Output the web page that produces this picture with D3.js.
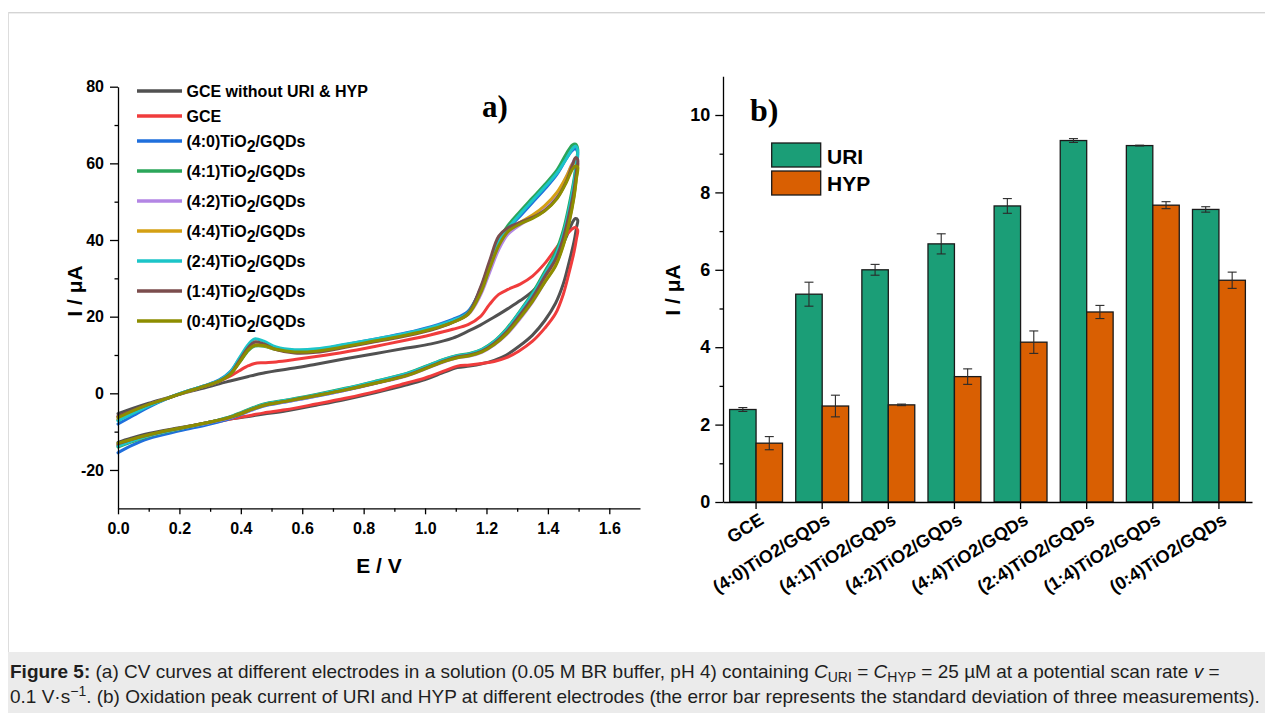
<!DOCTYPE html>
<html>
<head>
<meta charset="utf-8">
<script src="https://cdn.jsdelivr.net/npm/d3@7"></script>
<style>
  html, body { margin: 0; padding: 0; background: #fff; }
  svg { display: block; }
</style>
</head>
<body>
<svg id="fig" width="1265" height="713"></svg>
<script>
// ---------- Panel (a): cyclic voltammograms ----------
// Potential grid of the anodic (forward) and cathodic (return) sweeps, V
const forwardE = [0, 0.05, 0.10, 0.16, 0.22, 0.28, 0.33, 0.365, 0.395, 0.425, 0.445, 0.475, 0.515, 0.575, 0.645, 0.74, 0.84, 0.94, 1.02, 1.09, 1.14, 1.18, 1.21, 1.24, 1.27, 1.31, 1.35, 1.39, 1.43, 1.46, 1.48, 1.49];
const reverseE = [1.497, 1.493, 1.485, 1.47, 1.45, 1.425, 1.39, 1.35, 1.305, 1.265, 1.225, 1.185, 1.145, 1.105, 1.065, 1.0, 0.94, 0.84, 0.74, 0.645, 0.545, 0.475, 0.435, 0.375, 0.30, 0.20, 0.10, 0.04, 0];

// Currents, µA
const blankFwd = [-5.3, -3.9, -2.6, -1.2, 0.2, 1.4, 2.5, 3.2, 3.8, 4.4, 4.8, 5.3, 5.9, 6.6, 7.6, 9.0, 10.4, 11.8, 12.9, 14.4, 16.2, 17.8, 19.2, 20.6, 22.1, 24.2, 26.6, 30.2, 35.5, 40.8, 44.6, 45.6];
const blankRev = [45.2, 43.2, 39.5, 34.5, 28.5, 23.5, 19.0, 15.2, 12.2, 10.0, 8.6, 7.7, 7.1, 6.7, 5.6, 3.6, 2.2, 0.2, -1.6, -3.1, -4.6, -5.4, -5.9, -6.6, -7.6, -9.0, -10.5, -11.8, -12.8];
const gceFwd = [-6.0, -4.5, -3.0, -1.3, 0.3, 1.8, 3.2, 4.5, 5.9, 7.2, 7.8, 8.0, 8.2, 8.8, 9.6, 10.8, 12.3, 13.9, 15.3, 16.7, 17.9, 20.0, 23.2, 25.8, 27.1, 28.5, 30.6, 33.9, 38.2, 41.3, 42.9, 43.3];
const gceRev = [42.6, 40.3, 36.8, 31.8, 25.8, 20.8, 17.0, 13.6, 11.0, 9.3, 8.3, 7.8, 7.4, 7.1, 5.9, 4.0, 2.7, 0.5, -1.3, -2.8, -4.3, -5.1, -5.7, -6.6, -7.8, -9.4, -11.0, -12.3, -13.6];
const tg40Fwd = [-8.0, -5.8, -3.6, -1.4, 0.4, 1.9, 3.5, 5.6, 9.0, 12.2, 13.0, 12.7, 11.6, 11.0, 11.3, 12.7, 14.2, 15.8, 17.4, 19.3, 21.4, 27.0, 33.0, 39.0, 42.8, 46.3, 49.8, 53.3, 57.2, 61.2, 63.4, 63.8];
const tg40Rev = [62.8, 59.2, 54.3, 48.0, 41.2, 35.8, 31.0, 25.6, 20.6, 16.4, 13.3, 11.2, 10.1, 9.6, 8.6, 6.6, 4.8, 2.7, 0.8, -0.8, -2.3, -3.3, -4.4, -6.3, -8.0, -9.8, -11.8, -13.8, -15.5];
const tg41Fwd = [-7.0, -5.0, -3.2, -1.3, 0.4, 1.9, 3.3, 5.0, 8.0, 11.2, 12.3, 12.3, 11.4, 10.9, 11.1, 12.4, 13.9, 15.4, 17.0, 18.9, 21.0, 27.2, 33.8, 40.0, 43.8, 47.5, 51.0, 54.5, 58.3, 62.5, 64.8, 65.0];
const tg41Rev = [63.8, 60.5, 55.8, 49.5, 42.5, 36.8, 31.8, 26.2, 21.0, 16.8, 13.6, 11.5, 10.4, 9.9, 9.0, 7.0, 5.2, 3.2, 1.3, -0.3, -1.8, -2.8, -3.9, -5.8, -7.5, -9.3, -11.2, -12.8, -14.0];
const tg42Fwd = [-6.5, -4.7, -3.0, -1.3, 0.3, 1.8, 3.2, 5.0, 8.4, 11.8, 12.8, 12.6, 11.6, 10.9, 11.0, 12.3, 13.8, 15.3, 16.8, 18.6, 20.5, 25.5, 31.5, 37.5, 41.5, 44.0, 46.0, 48.5, 52.0, 56.5, 60.0, 61.2];
const tg42Rev = [60.5, 57.0, 51.8, 45.5, 39.0, 33.5, 29.0, 23.8, 19.0, 15.3, 12.6, 10.7, 9.7, 9.3, 8.3, 6.3, 4.5, 2.6, 0.8, -0.7, -2.2, -3.2, -4.3, -6.1, -7.6, -9.2, -11.0, -12.5, -13.6];
const tg44Fwd = [-6.8, -4.9, -3.1, -1.3, 0.3, 1.8, 3.2, 5.0, 8.3, 11.6, 12.6, 12.4, 11.4, 10.8, 11.0, 12.3, 13.8, 15.3, 16.9, 18.7, 20.7, 26.5, 33.0, 39.0, 42.5, 44.6, 46.5, 49.0, 52.5, 56.5, 59.8, 60.5];
const tg44Rev = [60.0, 56.5, 51.5, 45.2, 38.8, 33.5, 29.2, 24.2, 19.4, 15.6, 12.8, 10.9, 9.9, 9.4, 8.5, 6.5, 4.7, 2.7, 0.9, -0.6, -2.1, -3.1, -4.2, -6.0, -7.5, -9.2, -11.0, -12.5, -13.5];
const tg24Fwd = [-7.2, -5.2, -3.3, -1.3, 0.4, 1.9, 3.4, 5.5, 9.2, 12.8, 14.2, 13.6, 12.1, 11.4, 11.6, 12.8, 14.2, 15.7, 17.2, 19.0, 21.0, 27.0, 33.5, 39.5, 43.0, 46.8, 50.3, 53.8, 57.5, 61.2, 63.8, 64.5];
const tg24Rev = [63.5, 60.0, 55.0, 48.5, 41.5, 36.0, 31.2, 25.8, 20.8, 16.6, 13.5, 11.4, 10.3, 9.8, 8.9, 6.9, 5.1, 3.1, 1.2, -0.4, -1.9, -2.9, -4.0, -5.9, -7.5, -9.2, -11.0, -12.6, -13.8];
const tg14Fwd = [-6.0, -4.4, -2.9, -1.3, 0.3, 1.8, 3.2, 5.0, 8.5, 12.0, 13.4, 12.9, 11.4, 10.5, 10.7, 12.0, 13.5, 15.0, 16.5, 18.5, 20.8, 27.5, 34.5, 41.0, 43.2, 44.6, 45.9, 47.7, 51.0, 55.3, 59.6, 61.5];
const tg14Rev = [61.0, 58.0, 53.0, 47.0, 40.5, 35.0, 30.5, 25.0, 20.0, 16.0, 13.0, 11.0, 10.0, 9.5, 8.5, 6.5, 4.7, 2.7, 0.9, -0.6, -2.1, -3.1, -4.2, -6.0, -7.5, -9.1, -10.8, -12.1, -13.2];
const tg04Fwd = [-6.3, -4.5, -2.9, -1.3, 0.3, 1.8, 3.2, 4.9, 8.0, 11.4, 12.5, 12.5, 11.5, 10.8, 11.0, 12.2, 13.7, 15.2, 16.7, 18.5, 20.6, 26.0, 32.5, 38.5, 42.2, 44.2, 45.6, 47.6, 50.8, 55.0, 58.5, 59.3];
const tg04Rev = [59.0, 56.0, 51.0, 44.8, 38.5, 33.2, 29.0, 24.0, 19.3, 15.5, 12.7, 10.8, 9.8, 9.3, 8.4, 6.4, 4.6, 2.7, 0.9, -0.6, -2.1, -3.1, -4.2, -6.0, -7.5, -9.1, -10.8, -12.1, -13.0];

const cvNames = ["GCE without URI & HYP", "GCE", "(4:0)TiO2/GQDs", "(4:1)TiO2/GQDs", "(4:2)TiO2/GQDs",
                 "(4:4)TiO2/GQDs", "(2:4)TiO2/GQDs", "(1:4)TiO2/GQDs", "(0:4)TiO2/GQDs"];
const cvForward = [blankFwd, gceFwd, tg40Fwd, tg41Fwd, tg42Fwd, tg44Fwd, tg24Fwd, tg14Fwd, tg04Fwd];
const cvReverse = [blankRev, gceRev, tg40Rev, tg41Rev, tg42Rev, tg44Rev, tg24Rev, tg14Rev, tg04Rev];
const cvColors = ["#515151", "#f03c3c", "#1f6fdc", "#2ba65a", "#b386e4", "#d4a014", "#1cc5c8", "#7b4d4d", "#8d8d00"];

const cvXTicks = [0, 0.2, 0.4, 0.6, 0.8, 1.0, 1.2, 1.4, 1.6];
const cvXMinor = [0.1, 0.3, 0.5, 0.7, 0.9, 1.1, 1.3, 1.5];
const cvYTicks = [-20, 0, 20, 40, 60, 80];
const cvYMinor = [-10, 10, 30, 50, 70];

// ---------- Panel (b): oxidation peak currents ----------
const barCategories = ["GCE", "(4:0)TiO2/GQDs", "(4:1)TiO2/GQDs", "(4:2)TiO2/GQDs",
                       "(4:4)TiO2/GQDs", "(2:4)TiO2/GQDs", "(1:4)TiO2/GQDs", "(0:4)TiO2/GQDs"];
const uriPeak = [2.39, 5.37, 6.00, 6.67, 7.65, 9.34, 9.21, 7.56];
const uriSD   = [0.05, 0.31, 0.14, 0.26, 0.19, 0.05, 0.01, 0.07];
const hypPeak = [1.52, 2.48, 2.51, 3.24, 4.13, 4.91, 7.67, 5.73];
const hypSD   = [0.17, 0.28, 0.02, 0.20, 0.29, 0.17, 0.09, 0.21];
const barSeries = ["URI", "HYP"];
const barColors = ["#1b9e77", "#d95f02"];
const barYTicks = [0, 2, 4, 6, 8, 10];
const barYMinor = [1, 3, 5, 7, 9];

// ---------- drawing ----------
const SANS = "'Liberation Sans', Arial, Helvetica, sans-serif";
const SERIF = "'Liberation Serif', 'Times New Roman', serif";
const svg = d3.select("#fig");

// page frame and caption band
svg.append("rect").attr("x", 8).attr("y", 652).attr("width", 1257).attr("height", 61).attr("fill", "#ebebeb");
svg.append("line").attr("x1", 8).attr("x2", 1265).attr("y1", 12.5).attr("y2", 12.5).attr("stroke", "#d4d4d4");
svg.append("line").attr("x1", 8).attr("x2", 1265).attr("y1", 13.5).attr("y2", 13.5).attr("stroke", "#eeeeee");
svg.append("line").attr("x1", 8.5).attr("x2", 8.5).attr("y1", 12).attr("y2", 652).attr("stroke", "#dddddd");

function styleAxis(g, size) {
  g.attr("font-family", SANS).attr("font-size", size).attr("font-weight", "bold");
  g.selectAll("path, line").attr("stroke", "#000").attr("stroke-width", 1.3);
  g.selectAll("text").attr("fill", "#000");
}

// --- panel (a)
const xA = d3.scaleLinear().domain([0, 1.7]).range([118, 640]);
const yA = d3.scaleLinear().domain([-30, 80]).range([508.3, 86.7]);
const gA = svg.append("g");

const lineA = d3.line()
  .x(d => xA(d[0]))
  .y(d => yA(d[1]))
  .curve(d3.curveCatmullRom.alpha(0.5));

cvNames.forEach((name, i) => {
  const pts = forwardE.map((e, k) => [e, cvForward[i][k]])
    .concat(reverseE.map((e, k) => [e, cvReverse[i][k]]));
  gA.append("path")
    .attr("d", lineA(pts))
    .attr("fill", "none")
    .attr("stroke", cvColors[i])
    .attr("stroke-width", 3)
    .attr("stroke-linejoin", "round")
    .attr("stroke-linecap", "round");
});

const axAx = gA.append("g").attr("transform", `translate(0,${yA(-30)})`)
  .call(d3.axisBottom(xA).tickValues(cvXTicks).tickSize(6).tickSizeOuter(0).tickPadding(8).tickFormat(d3.format(".1f")));
styleAxis(axAx, 16);
const axAxMinor = gA.append("g").attr("transform", `translate(0,${yA(-30)})`)
  .call(d3.axisBottom(xA).tickValues(cvXMinor).tickSize(3.5).tickFormat(""));
axAxMinor.select(".domain").remove();
styleAxis(axAxMinor, 16);

const axAy = gA.append("g").attr("transform", `translate(${xA(0)},0)`)
  .call(d3.axisLeft(yA).tickValues(cvYTicks).tickSize(8).tickSizeOuter(0).tickPadding(6).tickFormat(d => String(d)));
styleAxis(axAy, 16);
const axAyMinor = gA.append("g").attr("transform", `translate(${xA(0)},0)`)
  .call(d3.axisLeft(yA).tickValues(cvYMinor).tickSize(3.5).tickFormat(""));
axAyMinor.select(".domain").remove();
styleAxis(axAyMinor, 16);

gA.append("text").attr("x", (xA.range()[0] + xA.range()[1]) / 2).attr("y", 573)
  .attr("text-anchor", "middle").attr("font-family", SANS).attr("font-weight", "bold").attr("font-size", 21)
  .text("E / V");
gA.append("text").attr("transform", "translate(82,291) rotate(-90)")
  .attr("text-anchor", "middle").attr("font-family", SANS).attr("font-weight", "bold").attr("font-size", 21)
  .text("I / \u03bcA");
gA.append("text").attr("x", 482).attr("y", 116.5)
  .attr("font-family", SERIF).attr("font-weight", "bold").attr("font-size", 31).text("a)");

// legend of panel (a)
const legA = gA.append("g");
cvNames.forEach((name, i) => {
  const cy = i < 3 ? 91 + 25 * i : 141 + 30 * (i - 2);
  legA.append("line").attr("x1", 137).attr("x2", 182).attr("y1", cy).attr("y2", cy)
    .attr("stroke", cvColors[i]).attr("stroke-width", 3.3);
  const t = legA.append("text").attr("x", 186.5).attr("y", cy + 6)
    .attr("font-family", SANS).attr("font-weight", "bold").attr("font-size", 16).attr("fill", "#000");
  const cut = name.indexOf("TiO2");
  if (cut < 0) {
    t.text(name);
  } else {
    t.append("tspan").text(name.slice(0, cut + 3));
    t.append("tspan").attr("dy", 5).attr("font-size", 16).text("2");
    t.append("tspan").attr("dy", -5).text(name.slice(cut + 4));
  }
});

// --- panel (b)
const xB = d3.scaleBand().domain(barCategories).range([723, 1252]).paddingInner(0.2).paddingOuter(0.1);
const xSub = d3.scaleBand().domain(barSeries).range([0, xB.bandwidth()]);
const yB = d3.scaleLinear().domain([0, 11]).range([502, 76.3]);
const gB = svg.append("g");

const barValues = [uriPeak, hypPeak];
const barErrors = [uriSD, hypSD];

barSeries.forEach((s, j) => {
  gB.append("g").selectAll("rect").data(barCategories).join("rect")
    .attr("x", c => xB(c) + xSub(s))
    .attr("y", (c, i) => yB(barValues[j][i]))
    .attr("width", xSub.bandwidth())
    .attr("height", (c, i) => yB(0) - yB(barValues[j][i]))
    .attr("fill", barColors[j])
    .attr("stroke", "#1a1a1a")
    .attr("stroke-width", 1.3);
});

barSeries.forEach((s, j) => {
  const g = gB.append("g").attr("stroke", "#2a2a2a").attr("stroke-width", 1.1);
  barCategories.forEach((c, i) => {
    const cx = xB(c) + xSub(s) + xSub.bandwidth() / 2;
    const lo = yB(barValues[j][i] - barErrors[j][i]);
    const hi = yB(barValues[j][i] + barErrors[j][i]);
    g.append("line").attr("x1", cx).attr("x2", cx).attr("y1", lo).attr("y2", hi);
    g.append("line").attr("x1", cx - 4.5).attr("x2", cx + 4.5).attr("y1", lo).attr("y2", lo);
    g.append("line").attr("x1", cx - 4.5).attr("x2", cx + 4.5).attr("y1", hi).attr("y2", hi);
  });
});

const axBx = gB.append("g").attr("transform", `translate(0,${yB(0)})`)
  .call(d3.axisBottom(xB).tickSize(7).tickSizeOuter(0));
styleAxis(axBx, 18);
axBx.selectAll(".tick text")
  .attr("x", 0).attr("y", 0).attr("dy", 0)
  .attr("text-anchor", "end")
  .attr("transform", "translate(9,21) rotate(-32)");

const axBy = gB.append("g").attr("transform", "translate(723,0)")
  .call(d3.axisLeft(yB).tickValues(barYTicks).tickSize(7.7).tickSizeOuter(0).tickPadding(5).tickFormat(d => String(d)));
styleAxis(axBy, 18);
const axByMinor = gB.append("g").attr("transform", "translate(723,0)")
  .call(d3.axisLeft(yB).tickValues(barYMinor).tickSize(3.5).tickFormat(""));
axByMinor.select(".domain").remove();
styleAxis(axByMinor, 18);

gB.append("text").attr("transform", "translate(680,290) rotate(-90)")
  .attr("text-anchor", "middle").attr("font-family", SANS).attr("font-weight", "bold").attr("font-size", 21)
  .text("I / \u03bcA");
gB.append("text").attr("x", 750).attr("y", 120.5)
  .attr("font-family", SERIF).attr("font-weight", "bold").attr("font-size", 32).text("b)");

// legend of panel (b)
barSeries.forEach((s, j) => {
  gB.append("rect").attr("x", 771.7).attr("y", 143 + 28 * j).attr("width", 49).attr("height", 24)
    .attr("fill", barColors[j]).attr("stroke", "#1a1a1a").attr("stroke-width", 1.3);
  gB.append("text").attr("x", 827).attr("y", 163.5 + 27 * j)
    .attr("font-family", SANS).attr("font-weight", "bold").attr("font-size", 21).text(s);
});

// ---------- caption ----------
const cap = svg.append("g").attr("font-family", SANS).attr("font-size", 19).attr("fill", "#1e1e1e");
const l1 = cap.append("text").attr("x", 10).attr("y", 678);
l1.append("tspan").attr("font-weight", "bold").text("Figure 5:");
l1.append("tspan").text(" (a) CV curves at different electrodes in a solution (0.05 M BR buffer, pH 4) containing ");
l1.append("tspan").attr("font-style", "italic").text("C");
l1.append("tspan").attr("font-size", 14).attr("dy", 4).text("URI");
l1.append("tspan").attr("dy", -4).text(" = ");
l1.append("tspan").attr("font-style", "italic").text("C");
l1.append("tspan").attr("font-size", 14).attr("dy", 4).text("HYP");
l1.append("tspan").attr("dy", -4).text(" = 25 \u00b5M at a potential scan rate ");
l1.append("tspan").attr("font-style", "italic").text("v");
l1.append("tspan").text(" =");

const l2 = cap.append("text").attr("x", 10).attr("y", 703);
l2.append("tspan").text("0.1 V\u00b7s");
l2.append("tspan").attr("font-size", 14).attr("dy", -7).text("\u22121");
l2.append("tspan").attr("dy", 7).text(". (b) Oxidation peak current of URI and HYP at different electrodes (the error bar represents the standard deviation of three measurements).");
</script>
</body>
</html>
